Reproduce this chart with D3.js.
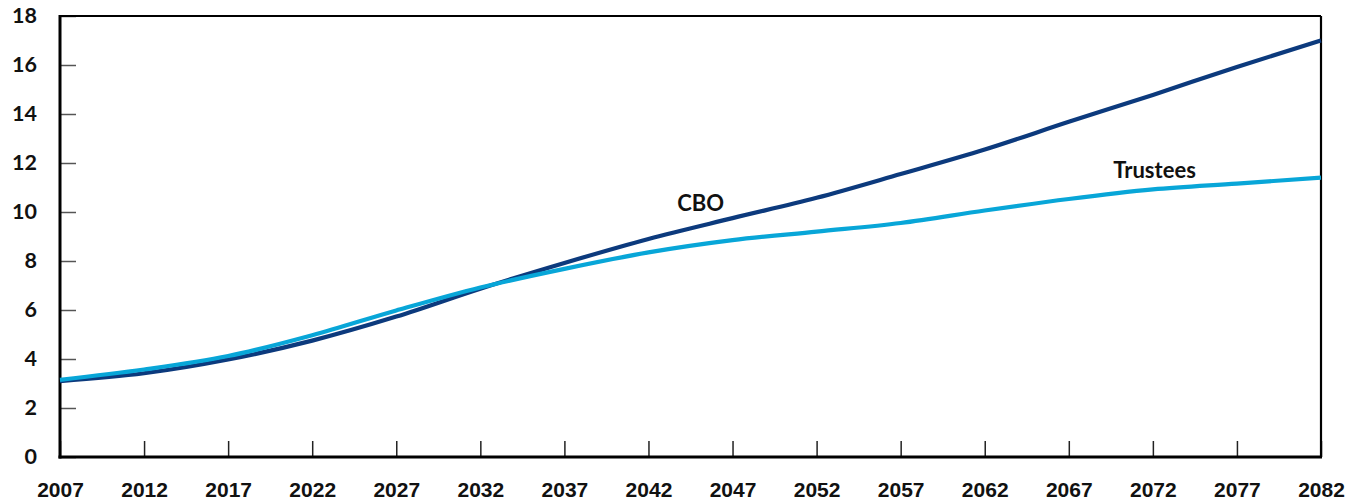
<!DOCTYPE html>
<html>
<head>
<meta charset="utf-8">
<script src="https://cdn.jsdelivr.net/npm/d3@7"></script>
<style>
  body { margin: 0; background: #fff; }
  .ylab text { font-family: Lato, "Open Sans", sans-serif; font-weight: bold; font-size: 21.5px; fill: #111; }
  .xlab text { font-family: "Liberation Sans", Arial, sans-serif; font-weight: bold; font-size: 21px; fill: #111; }
  .label { font-family: Lato, "Open Sans", sans-serif; font-weight: bold; font-size: 22px; fill: #111; }
</style>
</head>
<body>
<div id="chart"></div>
<script>
// data
var years = [2007, 2012, 2017, 2022, 2027, 2032, 2037, 2042, 2047, 2052, 2057, 2062, 2067, 2072, 2077, 2082]
var cbo = [3.1, 3.42, 3.98, 4.75, 5.73, 6.87, 7.92, 8.9, 9.75, 10.58, 11.55, 12.55, 13.68, 14.78, 15.92, 17.0]
var trustees = [3.15, 3.57, 4.12, 4.97, 5.98, 6.92, 7.68, 8.35, 8.85, 9.2, 9.55, 10.06, 10.53, 10.92, 11.16, 11.4]
var yTicks = [0, 2, 4, 6, 8, 10, 12, 14, 16, 18]
var xTicks = years

var margin = {top: 16, right: 36, bottom: 47, left: 60},
  width = 1357 - margin.left - margin.right,
  height = 504 - margin.top - margin.bottom;

var svg = d3.select("#chart").append("svg")
  .attr("width", 1357)
  .attr("height", 504)
var g = svg.append("g")
  .attr("transform", "translate(" + margin.left + "," + margin.top + ")");

var x = d3.scaleLinear().domain([2007, 2082]).range([0, width])
var y = d3.scaleLinear().domain([0, 18]).range([height, 0])

// y axis, ticks point inward
var yAxis = g.append("g").attr("class", "ylab")
  .call(d3.axisLeft(y).tickValues(yTicks).tickSizeInner(-16).tickSizeOuter(0).tickPadding(23))
yAxis.select(".domain").remove()
yAxis.selectAll("line").attr("stroke", "#555").attr("stroke-width", 1.5)

var xAxis = g.append("g").attr("class", "xlab")
  .attr("transform", "translate(0," + height + ")")
  .call(d3.axisBottom(x).tickValues(xTicks).tickFormat(d3.format("d")).tickSizeInner(-16).tickSizeOuter(0).tickPadding(25))
xAxis.select(".domain").remove()
xAxis.selectAll("line").attr("stroke", "#222").attr("stroke-width", 1.5)

// frame: thin top/right, heavier left/bottom
g.append("line").attr("x1", 0).attr("x2", width).attr("y1", 0).attr("y2", 0)
  .attr("stroke", "#000").attr("stroke-width", 2.2)
g.append("line").attr("x1", width).attr("x2", width).attr("y1", 0).attr("y2", height)
  .attr("stroke", "#000").attr("stroke-width", 2.2)
g.append("line").attr("x1", 0).attr("x2", 0).attr("y1", -1).attr("y2", height + 1.5)
  .attr("stroke", "#000").attr("stroke-width", 3)
g.append("line").attr("x1", -1.5).attr("x2", width + 1).attr("y1", height).attr("y2", height)
  .attr("stroke", "#000").attr("stroke-width", 3)

var line = d3.line()
  .x(d => x(d[0]))
  .y(d => y(d[1]))
  .curve(d3.curveMonotoneX)

g.append("path")
  .datum(years.map((yr, i) => [yr, cbo[i]]))
  .attr("fill", "none")
  .attr("stroke", "#0c3a7d")
  .attr("stroke-width", 4.2)
  .attr("d", line)

g.append("path")
  .datum(years.map((yr, i) => [yr, trustees[i]]))
  .attr("fill", "none")
  .attr("stroke", "#08a6d8")
  .attr("stroke-width", 4.2)
  .attr("d", line)

g.append("text").attr("class", "label")
  .attr("x", x(2045.1)).attr("y", y(10.05))
  .attr("text-anchor", "middle")
  .text("CBO")

g.append("text").attr("class", "label")
  .attr("x", x(2072.1)).attr("y", y(11.4))
  .attr("text-anchor", "middle")
  .text("Trustees")
</script>
</body>
</html>
